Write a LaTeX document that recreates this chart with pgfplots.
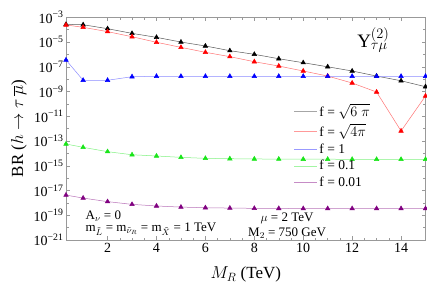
\documentclass[border=0pt]{standalone}
\usepackage{fontspec}
\setmainfont{Liberation Serif}
\usepackage{pgfplots}
\pgfplotsset{compat=1.18}
\definecolor{mgreen}{rgb}{0.1,0.9,0.1}
\definecolor{mpurple}{rgb}{0.5,0.0,0.5}
\pgfplotsset{mylegline/.style={legend image code/.code={\draw[mark=none,##1] (0pt,0pt) -- (23pt,0pt);}}}
\begin{document}
\begin{tikzpicture}
\begin{axis}[
  at={(0,0)}, anchor=south west,
  scale only axis, width=359.5pt, height=222.7pt,
  ymode=log, xmin=0.3, xmax=15, ymin=1e-21, ymax=1e-3,
  xtick={2,4,6,8,10,12,14}, minor x tick num=3,
  ytick={1e-21,1e-19,1e-17,1e-15,1e-13,1e-11,1e-9,1e-7,1e-5,1e-3},
  yticklabels={10\textsuperscript{−21},10\textsuperscript{−19},10\textsuperscript{−17},10\textsuperscript{−15},10\textsuperscript{−13},10\textsuperscript{−11},10\textsuperscript{−9},10\textsuperscript{−7},10\textsuperscript{−5},10\textsuperscript{−3}},
  minor ytick={1e-20,1e-18,1e-16,1e-14,1e-12,1e-10,1e-8,1e-6,1e-4},
  tick align=inside,
  axis line style={black!40},
  every tick/.style={black!40},
  major tick length=4pt, minor tick length=2.5pt,
  /pgf/number format/assume math mode=true,
  tick label style={font=\fontsize{14}{16}\selectfont},
  yticklabel style={xshift=1pt},
  xlabel={$M_R$ (TeV)},
  ylabel={BR ($h\rightarrow\tau\,\overline{\mu}$)},
  label style={font=\fontsize{17}{19}\selectfont},
  xlabel style={yshift=-7pt},
  legend style={draw=none, fill=none, at={(rel axis cs:0.625,0.63)}, anchor=north west,
    font=\fontsize{13.5}{15}\selectfont, row sep=1.5pt},
  legend cell align=left,
  clip=false,
]
\addlegendimage{mylegline, draw=black!35, line width=0.6pt}
\addlegendentry{f = $\sqrt{6\;\pi}$}
\addlegendimage{mylegline, draw=red!40, line width=0.6pt}
\addlegendentry{f = $\sqrt{4\pi}$}
\addlegendimage{mylegline, draw=blue!40, line width=0.6pt}
\addlegendentry{f = 1}
\addlegendimage{mylegline, draw=mgreen!40, line width=0.6pt}
\addlegendentry{f = 0.1}
\addlegendimage{mylegline, draw=mpurple!45, line width=0.6pt}
\addlegendentry{f = 0.01}
\addplot[forget plot, color=black!65, line width=0.5pt, mark=triangle*, mark size=2.6pt, mark options={fill=black,draw=black}] coordinates {
(0.3,2.69e-4)(1,2.51e-4)(2,1.20e-4)(3,5.01e-5)(4,2.40e-5)(5,1.00e-5)(6,4.79e-6)(7,2.00e-6)
(8,1.02e-6)(9,4.47e-7)(10,2.14e-7)(11,1.00e-7)(12,4.57e-8)(13,1.78e-8)(14,7.41e-9)(15,2.45e-9)};
\addplot[forget plot, color=red!55, line width=0.5pt, mark=triangle*, mark size=2.6pt, mark options={fill=red,draw=red}] coordinates {
(0.3,2.40e-4)(1,1.55e-4)(2,6.92e-5)(3,2.69e-5)(4,9.55e-6)(5,3.72e-6)(6,1.48e-6)(7,6.61e-7)
(8,2.57e-7)(9,1.15e-7)(10,4.57e-8)(11,1.78e-8)(12,4.90e-9)(13,9.12e-10)(14,6.46e-13)(15,4.37e-10)};
\addplot[forget plot, color=blue!45, line width=0.5pt, mark=triangle*, mark size=2.6pt, mark options={fill=blue,draw=blue}] coordinates {
(0.3,3.55e-7)(1,8.13e-9)(2,8.13e-9)(3,1.58e-8)(4,1.70e-8)(5,1.70e-8)(6,1.70e-8)(7,1.70e-8)
(8,1.70e-8)(9,1.70e-8)(10,1.70e-8)(11,1.70e-8)(12,1.70e-8)(13,1.70e-8)(14,1.70e-8)(15,1.70e-8)};
\addplot[forget plot, color=mgreen!55, line width=0.5pt, mark=triangle*, mark size=2.6pt, mark options={fill=mgreen,draw=mgreen}] coordinates {
(0.3,5.75e-14)(1,3.09e-14)(2,1.38e-14)(3,7.76e-15)(4,6.17e-15)(5,4.79e-15)(6,3.98e-15)(7,3.72e-15)
(8,3.55e-15)(9,3.47e-15)(10,3.39e-15)(11,3.39e-15)(12,3.31e-15)(13,3.31e-15)(14,3.31e-15)(15,3.31e-15)};
\addplot[forget plot, color=mpurple!55, line width=0.5pt, mark=triangle*, mark size=2.6pt, mark options={fill=mpurple,draw=mpurple}] coordinates {
(0.3,4.27e-18)(1,2.45e-18)(2,1.26e-18)(3,7.59e-19)(4,5.62e-19)(5,4.57e-19)(6,4.07e-19)(7,3.80e-19)
(8,3.63e-19)(9,3.55e-19)(10,3.47e-19)(11,3.47e-19)(12,3.47e-19)(13,3.47e-19)(14,3.47e-19)(15,3.47e-19)};
\node[anchor=west, font=\fontsize{13}{14}\selectfont] at (rel axis cs:0.045,0.108) {A$_\nu$ = 0};
\node[anchor=west, font=\fontsize{13}{14}\selectfont] at (rel axis cs:0.045,0.047) {m$_{\tilde{L}}$ = m$_{\tilde{\nu}_R}$ = m$_{\tilde{X}}$ = 1 TeV};
\node[font=\fontsize{13}{14}\selectfont] at (rel axis cs:0.615,0.096) {$\mu$ = 2 TeV};
\node[font=\fontsize{13}{14}\selectfont] at (rel axis cs:0.615,0.031) {M$_2$ = 750 GeV};
\node[font=\fontsize{19}{21}\selectfont] at (rel axis cs:0.855,0.898) {Y$^{(2)}_{\tau\mu}$};
\end{axis}
\pgfresetboundingbox
\path (-66pt,-51pt) rectangle (361pt,240pt);
\end{tikzpicture}
\end{document}
